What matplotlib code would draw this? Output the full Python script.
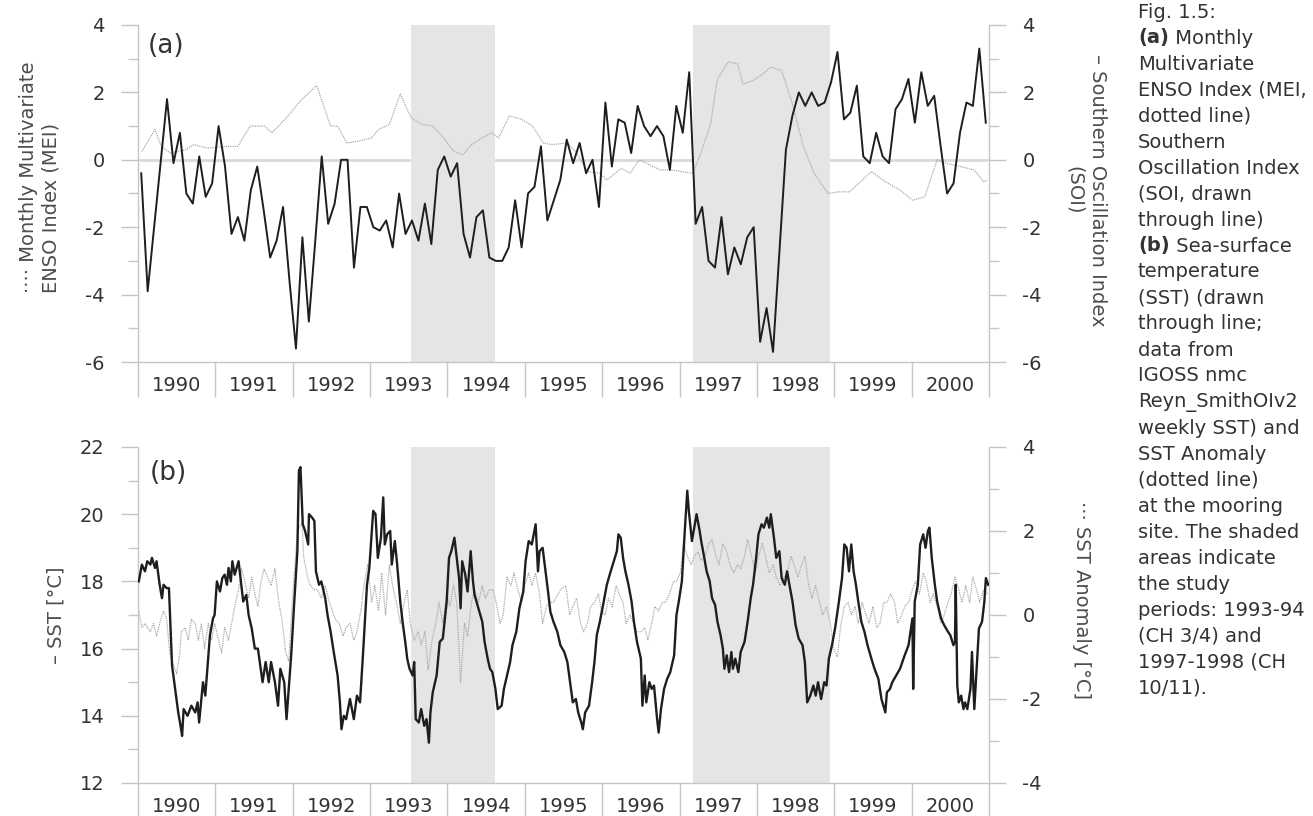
import matplotlib
matplotlib.use("Agg")
import numpy as np
import matplotlib.pyplot as plt
from matplotlib.ticker import FixedLocator, MultipleLocator, NullFormatter

plt.rcParams['font.family'] = ['DejaVu Sans']
plt.rcParams['axes.unicode_minus'] = False

# ---- data ----
years = list(range(1990, 2001))
study_periods = [(1993.53, 1994.61), (1997.17, 1998.94)]

# (a) Southern Oscillation Index, monthly Jan 1990 .. Dec 2000
soi = [
    -0.4, -3.9, -2.0, -0.1, 1.8, -0.1, 0.8, -1.0, -1.3, 0.1, -1.1, -0.7,   # 1990
    1.0, -0.2, -2.2, -1.7, -2.4, -0.9, -0.2, -1.5, -2.9, -2.4, -1.4, -3.6,  # 1991
    -5.6, -2.3, -4.8, -2.4, 0.1, -1.9, -1.3, 0.0, 0.0, -3.2, -1.4, -1.4,    # 1992
    -2.0, -2.1, -1.8, -2.6, -1.0, -2.2, -1.8, -2.4, -1.3, -2.5, -0.3, 0.1,  # 1993
    -0.5, -0.1, -2.2, -2.9, -1.7, -1.5, -2.9, -3.0, -3.0, -2.6, -1.2, -2.6, # 1994
    -1.0, -0.8, 0.4, -1.8, -1.2, -0.6, 0.6, -0.1, 0.5, -0.4, 0.0, -1.4,     # 1995
    1.7, -0.2, 1.2, 1.1, 0.2, 1.6, 1.0, 0.7, 1.0, 0.7, -0.3, 1.6,           # 1996
    0.8, 2.6, -1.9, -1.4, -3.0, -3.2, -1.7, -3.4, -2.6, -3.1, -2.3, -2.0,   # 1997
    -5.4, -4.4, -5.7, -2.7, 0.3, 1.3, 2.0, 1.6, 2.0, 1.6, 1.7, 2.3,         # 1998
    3.2, 1.2, 1.4, 2.2, 0.1, -0.1, 0.8, 0.1, -0.1, 1.5, 1.8, 2.4,           # 1999
    1.1, 2.6, 1.6, 1.9, 0.4, -1.0, -0.7, 0.8, 1.7, 1.6, 3.3, 1.1,           # 2000
]

# (a) Multivariate ENSO Index
mei_t = [1990.05, 1990.22, 1990.30, 1990.42, 1990.62, 1990.72, 1990.90, 1991.18,
         1991.29, 1991.45, 1991.64, 1991.73, 1991.92, 1992.10, 1992.31, 1992.40,
         1992.49, 1992.58, 1992.70, 1992.84, 1993.02, 1993.11, 1993.25, 1993.39,
         1993.53, 1993.67, 1993.81, 1993.95, 1994.08, 1994.20, 1994.31, 1994.45,
         1994.57, 1994.66, 1994.80, 1994.96, 1995.10, 1995.24, 1995.35, 1995.55,
         1995.67, 1995.81, 1995.97, 1996.06, 1996.25, 1996.36, 1996.48, 1996.61,
         1996.75, 1996.89, 1997.03, 1997.17, 1997.26, 1997.40, 1997.49, 1997.63,
         1997.75, 1997.82, 1997.95, 1998.05, 1998.18, 1998.32, 1998.46, 1998.60,
         1998.74, 1998.92, 1999.06, 1999.20, 1999.48, 1999.66, 1999.85, 2000.01,
         2000.17, 2000.33, 2000.44, 2000.63, 2000.81, 2000.93, 2000.98]
mei = [0.25, 0.9, 0.4, 0.2, 0.3, 0.45, 0.35, 0.4,
       0.4, 1.0, 1.0, 0.8, 1.25, 1.75, 2.2, 1.6,
       1.0, 1.0, 0.5, 0.55, 0.65, 0.9, 1.05, 1.95,
       1.25, 1.05, 1.0, 0.65, 0.25, 0.15, 0.45, 0.65,
       0.8, 0.65, 1.3, 1.2, 1.0, 0.5, 0.45, 0.5,
       0.2, -0.35, -0.4, -0.6, -0.25, -0.4, 0.0, -0.15,
       -0.3, -0.3, -0.35, -0.4, 0.1, 1.05, 2.4, 2.9,
       2.85, 2.25, 2.35, 2.5, 2.75, 2.65, 1.65, 0.4,
       -0.4, -1.0, -0.95, -0.95, -0.35, -0.65, -0.9, -1.2,
       -1.1, 0.0, -0.1, -0.2, -0.3, -0.65, -0.6]

# (b) weekly sea-surface temperature [degC]
sst_t = [
    1990.01, 1990.05, 1990.09, 1990.12, 1990.16, 1990.18, 1990.22, 1990.24, 1990.28, 1990.31,
    1990.33, 1990.37, 1990.40, 1990.44, 1990.48, 1990.52, 1990.55, 1990.57, 1990.59, 1990.64,
    1990.69, 1990.74, 1990.77, 1990.79, 1990.82, 1990.84, 1990.87, 1990.91, 1990.93, 1990.97,
    1990.99, 1991.02, 1991.06, 1991.09, 1991.12, 1991.15, 1991.17, 1991.20, 1991.22, 1991.25,
    1991.30, 1991.34, 1991.36, 1991.40, 1991.43, 1991.47, 1991.51, 1991.55, 1991.61, 1991.65,
    1991.69, 1991.72, 1991.77, 1991.81, 1991.84, 1991.89, 1991.92, 1991.98, 1992.02, 1992.06,
    1992.08, 1992.10, 1992.13, 1992.16, 1992.20, 1992.21, 1992.25, 1992.28, 1992.30, 1992.34,
    1992.37, 1992.42, 1992.45, 1992.49, 1992.53, 1992.58, 1992.61, 1992.63, 1992.66, 1992.69,
    1992.74, 1992.79, 1992.83, 1992.87, 1992.91, 1992.96, 1992.99, 1993.04, 1993.07, 1993.10,
    1993.14, 1993.17, 1993.19, 1993.22, 1993.26, 1993.28, 1993.32, 1993.35, 1993.39, 1993.42,
    1993.46, 1993.48, 1993.51, 1993.55, 1993.57, 1993.59, 1993.63, 1993.66, 1993.70, 1993.73,
    1993.76, 1993.78, 1993.81, 1993.86, 1993.90, 1993.94, 1993.99, 1994.02, 1994.05, 1994.09,
    1994.12, 1994.15, 1994.17, 1994.19, 1994.23, 1994.26, 1994.30, 1994.33, 1994.35, 1994.40,
    1994.45, 1994.48, 1994.52, 1994.55, 1994.58, 1994.62, 1994.65, 1994.70, 1994.73, 1994.77,
    1994.81, 1994.84, 1994.89, 1994.93, 1994.98, 1995.01, 1995.05, 1995.09, 1995.14, 1995.17,
    1995.19, 1995.23, 1995.30, 1995.33, 1995.37, 1995.42, 1995.46, 1995.51, 1995.55, 1995.59,
    1995.62, 1995.66, 1995.69, 1995.73, 1995.75, 1995.78, 1995.83, 1995.87, 1995.90, 1995.93,
    1995.97, 1996.02, 1996.06, 1996.11, 1996.15, 1996.19, 1996.21, 1996.24, 1996.27, 1996.30,
    1996.34, 1996.38, 1996.41, 1996.45, 1996.50, 1996.52, 1996.55, 1996.57, 1996.61, 1996.64,
    1996.67, 1996.71, 1996.73, 1996.76, 1996.80, 1996.84, 1996.88, 1996.93, 1996.96, 1996.99,
    1997.03, 1997.07, 1997.10, 1997.12, 1997.16, 1997.19, 1997.22, 1997.26, 1997.28, 1997.32,
    1997.35, 1997.39, 1997.42, 1997.46, 1997.49, 1997.53, 1997.56, 1997.58, 1997.61, 1997.64,
    1997.67, 1997.69, 1997.72, 1997.76, 1997.79, 1997.84, 1997.88, 1997.92, 1997.95, 1997.99,
    1998.02, 1998.06, 1998.09, 1998.13, 1998.16, 1998.18, 1998.22, 1998.25, 1998.29, 1998.32,
    1998.36, 1998.39, 1998.42, 1998.46, 1998.50, 1998.54, 1998.59, 1998.62, 1998.65, 1998.69,
    1998.73, 1998.76, 1998.79, 1998.83, 1998.87, 1998.90, 1998.93, 1998.97, 1999.01, 1999.06,
    1999.10, 1999.13, 1999.16, 1999.19, 1999.22, 1999.25, 1999.28, 1999.31, 1999.35, 1999.39,
    1999.43, 1999.48, 1999.52, 1999.57, 1999.61, 1999.66, 1999.68, 1999.72, 1999.75, 1999.80,
    1999.85, 1999.91, 1999.96, 2000.01, 2000.02, 2000.04, 2000.08, 2000.11, 2000.15, 2000.18,
    2000.21, 2000.23, 2000.26, 2000.30, 2000.33, 2000.38, 2000.42, 2000.47, 2000.50, 2000.54,
    2000.56, 2000.57, 2000.59, 2000.61, 2000.64, 2000.67, 2000.69, 2000.72, 2000.76, 2000.78,
    2000.81, 2000.84, 2000.87, 2000.91, 2000.94, 2000.96, 2000.99,
]
sst = [
    18.0, 18.5, 18.3, 18.6, 18.5, 18.7, 18.4, 18.6, 17.9, 17.5,
    17.9, 17.8, 17.8, 15.5, 14.8, 14.1, 13.7, 13.4, 14.2, 14.0,
    14.3, 14.1, 14.4, 13.8, 14.5, 15.0, 14.6, 15.8, 16.4, 16.9,
    17.0, 18.0, 17.7, 18.1, 18.2, 17.9, 18.4, 18.0, 18.6, 18.2,
    18.6, 17.8, 17.4, 17.6, 17.0, 16.6, 16.0, 16.0, 15.0, 15.6,
    15.0, 15.6, 15.0, 14.3, 15.4, 15.0, 13.9, 15.8, 17.4, 18.9,
    21.3, 21.4, 19.7, 19.5, 19.1, 20.0, 19.9, 19.8, 18.3, 17.9,
    18.0, 17.5, 17.0, 16.5, 15.9, 15.2, 14.4, 13.6, 14.0, 13.9,
    14.5, 13.9, 14.6, 14.4, 15.9, 17.9, 18.4, 20.1, 20.0, 18.7,
    19.3, 20.5, 19.1, 19.4, 19.5, 18.5, 19.2, 18.5, 17.4, 16.8,
    16.1, 15.7, 15.4, 15.2, 15.6, 13.9, 13.8, 14.2, 13.7, 13.9,
    13.2, 14.1, 14.7, 15.2, 16.2, 16.3, 17.4, 18.7, 18.9, 19.3,
    18.7, 18.1, 17.2, 18.6, 18.2, 17.7, 18.9, 18.0, 17.6, 17.2,
    16.8, 16.2, 15.7, 15.4, 15.3, 14.8, 14.2, 14.3, 14.8, 15.2,
    15.6, 16.1, 16.5, 17.2, 17.7, 18.6, 19.2, 19.1, 19.7, 18.3,
    18.9, 19.0, 17.7, 17.1, 16.8, 16.5, 16.1, 15.9, 15.6, 14.9,
    14.4, 14.5, 14.1, 13.8, 13.6, 14.1, 14.3, 15.0, 15.6, 16.4,
    16.8, 17.4, 17.9, 18.3, 18.6, 18.9, 19.4, 19.3, 18.7, 18.3,
    17.9, 17.4, 16.8, 16.2, 15.7, 14.3, 15.2, 14.4, 15.0, 14.8,
    14.9, 13.9, 13.5, 14.2, 14.8, 15.1, 15.3, 15.8, 17.0, 17.4,
    18.0, 19.6, 20.7, 20.1, 19.2, 19.6, 20.0, 19.5, 19.2, 18.7,
    18.3, 18.0, 17.5, 17.3, 16.8, 16.4, 16.0, 15.4, 15.8, 15.3,
    15.9, 15.4, 15.7, 15.3, 15.9, 16.2, 16.8, 17.5, 17.9, 18.7,
    19.4, 19.7, 19.6, 19.9, 19.6, 20.0, 19.3, 18.7, 18.9, 18.1,
    17.9, 18.3, 17.9, 17.4, 16.7, 16.3, 16.1, 15.6, 14.4, 14.6,
    14.9, 14.6, 15.0, 14.5, 15.0, 14.9, 15.7, 16.1, 16.6, 17.4,
    18.1, 19.1, 19.0, 18.3, 19.1, 18.3, 17.9, 17.4, 16.8, 16.5,
    16.1, 15.7, 15.4, 15.1, 14.5, 14.1, 14.7, 14.8, 15.0, 15.2,
    15.4, 15.8, 16.1, 16.9, 14.8, 17.4, 17.9, 19.1, 19.4, 19.0,
    19.5, 19.6, 18.7, 17.9, 17.4, 16.9, 16.7, 16.5, 16.4, 16.1,
    16.2, 17.9, 14.9, 14.4, 14.6, 14.2, 14.4, 14.2, 14.8, 15.9,
    14.2, 15.4, 16.6, 16.8, 17.4, 18.1, 17.9,
]

# (b) SST anomaly [degC], right axis
anom_t = [
    1990.01, 1990.05, 1990.09, 1990.16, 1990.20, 1990.24, 1990.28, 1990.33, 1990.37, 1990.41,
    1990.46, 1990.50, 1990.54, 1990.56, 1990.61, 1990.65, 1990.69, 1990.74, 1990.78, 1990.82,
    1990.86, 1990.91, 1990.95, 1990.99, 1991.03, 1991.08, 1991.12, 1991.17, 1991.21, 1991.25,
    1991.30, 1991.34, 1991.38, 1991.43, 1991.47, 1991.51, 1991.55, 1991.59, 1991.63, 1991.72,
    1991.77, 1991.82, 1991.86, 1991.91, 1991.95, 1991.99, 1992.02, 1992.06, 1992.12, 1992.14,
    1992.19, 1992.23, 1992.28, 1992.32, 1992.37, 1992.42, 1992.46, 1992.51, 1992.55, 1992.60,
    1992.65, 1992.69, 1992.74, 1992.79, 1992.83, 1992.88, 1992.92, 1992.97, 1993.02, 1993.06,
    1993.11, 1993.15, 1993.20, 1993.25, 1993.29, 1993.34, 1993.39, 1993.43, 1993.48, 1993.52,
    1993.57, 1993.62, 1993.66, 1993.71, 1993.75, 1993.80, 1993.85, 1993.89, 1993.94, 1993.99,
    1994.03, 1994.08, 1994.12, 1994.17, 1994.22, 1994.26, 1994.31, 1994.35, 1994.40, 1994.45,
    1994.49, 1994.54, 1994.59, 1994.63, 1994.68, 1994.72, 1994.77, 1994.82, 1994.86, 1994.91,
    1994.96, 1995.00, 1995.05, 1995.09, 1995.14, 1995.19, 1995.23, 1995.28, 1995.32, 1995.37,
    1995.46, 1995.53, 1995.58, 1995.62, 1995.67, 1995.72, 1995.76, 1995.81, 1995.85, 1995.90,
    1995.95, 1995.99, 1996.04, 1996.08, 1996.13, 1996.18, 1996.22, 1996.27, 1996.31, 1996.36,
    1996.41, 1996.45, 1996.50, 1996.55, 1996.59, 1996.64, 1996.68, 1996.73, 1996.78, 1996.82,
    1996.87, 1996.92, 1996.96, 1997.01, 1997.05, 1997.10, 1997.15, 1997.19, 1997.24, 1997.28,
    1997.33, 1997.38, 1997.42, 1997.47, 1997.51, 1997.56, 1997.61, 1997.65, 1997.70, 1997.75,
    1997.79, 1997.84, 1997.88, 1997.93, 1997.98, 1998.02, 1998.07, 1998.11, 1998.16, 1998.21,
    1998.25, 1998.30, 1998.35, 1998.39, 1998.44, 1998.48, 1998.53, 1998.58, 1998.62, 1998.67,
    1998.71, 1998.76, 1998.81, 1998.85, 1998.90, 1998.95, 1998.99, 1999.04, 1999.08, 1999.13,
    1999.18, 1999.22, 1999.27, 1999.31, 1999.36, 1999.41, 1999.45, 1999.50, 1999.55, 1999.59,
    1999.64, 1999.68, 1999.73, 1999.78, 1999.82, 1999.87, 1999.91, 1999.96, 2000.01, 2000.05,
    2000.10, 2000.15, 2000.19, 2000.24, 2000.28, 2000.33, 2000.38, 2000.42, 2000.47, 2000.51,
    2000.56, 2000.61, 2000.65, 2000.70, 2000.75, 2000.79, 2000.84, 2000.88, 2000.93, 2000.98,
]
anom = [
    0.1, -0.3, -0.2, -0.4, -0.2, -0.5, -0.2, 0.1, -0.1, -0.9,
    -1.2, -1.4, -0.9, -0.4, -0.3, -0.6, -0.1, -0.2, -0.6, -0.2,
    -0.8, -0.2, -0.6, -0.2, -0.5, -0.9, -0.3, -0.6, -0.2, 0.2,
    0.6, 1.1, 0.8, 0.4, 0.9, 0.5, 0.2, 0.8, 1.1, 0.7,
    1.1, 0.3, -0.1, -0.9, -1.1, 0.2, 1.0, 2.0, 2.2, 1.4,
    0.9, 0.7, 0.6, 0.6, 0.4, 0.7, 0.4, 0.1, -0.1, -0.2,
    -0.5, -0.3, -0.2, -0.6, -0.4, 0.1, 0.7, 1.2, 0.3, 0.7,
    0.1, 1.0, 0.0, 1.2, 0.7, 0.3, -0.2, 0.2, 0.6, -0.2,
    -0.6, -0.4, -0.7, -0.4, -1.3, -0.6, -0.2, 0.3, -0.2, 0.5,
    0.2, 0.7, 0.3, -1.6, -0.2, -0.5, 0.3, 0.6, 0.3, 0.7,
    0.4, 0.6, 0.6, 0.3, -0.2, 0.0, 0.9, 0.7, 1.0, 0.6,
    0.3, 0.7, 1.0, 0.7, 1.0, 0.5, -0.2, 0.2, 0.3, 0.3,
    0.6, 0.7, 0.0, 0.2, 0.4, -0.2, -0.4, -0.2, 0.2, 0.3,
    0.5, 0.1, 0.0, 0.4, 0.2, 0.7, 0.5, 0.3, -0.2, 0.0,
    -0.2, -0.4, -0.4, -0.3, -0.6, -0.2, 0.2, 0.1, 0.3, 0.3,
    0.5, 0.8, 0.8, 1.0, 1.7, 1.4, 1.2, 1.4, 1.5, 1.3,
    1.4, 1.7, 1.8, 1.4, 1.2, 1.7, 1.5, 1.2, 1.0, 1.2,
    1.1, 1.4, 1.8, 1.4, 1.0, 1.4, 1.7, 1.4, 1.0, 1.2,
    0.9, 0.7, 0.9, 1.0, 1.4, 1.2, 0.9, 1.2, 1.4, 0.7,
    0.4, 0.7, 0.3, 0.0, 0.2, -0.2, -0.8, -1.0, -0.3, 0.2,
    0.3, 0.0, 0.2, -0.2, 0.3, 0.0, -0.2, 0.2, -0.3, -0.2,
    0.3, 0.3, 0.5, 0.3, -0.2, 0.0, 0.2, 0.3, 0.6, 0.8,
    0.5, 1.0, 0.8, 0.3, 0.5, 0.2, -0.2, 0.0, 0.3, 0.5,
    0.9, 0.6, 0.3, 0.7, 0.3, 0.9, 0.6, 0.3, 0.6, 0.5,
]

caption = [
    ("", "Fig. 1.5:"), ("(a)", " Monthly"), ("", "Multivariate"),
    ("", "ENSO Index (MEI,"), ("", "dotted line)"), ("", "Southern"),
    ("", "Oscillation Index"), ("", "(SOI, drawn"), ("", "through line)"),
    ("(b)", " Sea-surface"), ("", "temperature"), ("", "(SST) (drawn"),
    ("", "through line;"), ("", "data from"), ("", "IGOSS nmc"),
    ("", "Reyn_SmithOIv2"), ("", "weekly SST) and"), ("", "SST Anomaly"),
    ("", "(dotted line)"), ("", "at the mooring"), ("", "site. The shaded"),
    ("", "areas indicate"), ("", "the study"), ("", "periods: 1993-94"),
    ("", "(CH 3/4) and"), ("", "1997-1998 (CH"), ("", "10/11)."),
]

# ---- styling ----
W, H = 1313, 816
grid_c = '#c6c6c6'
shade_c = '#e5e5e6'
txt_c = '#333333'
lab_c = '#4d4d4d'
fs = 14

fig = plt.figure(figsize=(W / 100, H / 100), dpi=100)
ax_a = fig.add_axes([138 / W, 1 - 362 / H, 851 / W, 337 / H])
ax_b = fig.add_axes([138 / W, 1 - 783 / H, 851 / W, 336 / H])
ax_ar = ax_a.twinx()
ax_br = ax_b.twinx()


def style_x(ax):
    ax.set_xlim(1990, 2001)
    ax.xaxis.set_major_locator(FixedLocator(range(1990, 2002)))
    ax.xaxis.set_major_formatter(NullFormatter())
    ax.xaxis.set_minor_locator(FixedLocator([y + 0.5 for y in years]))
    ax.set_xticklabels([str(y) for y in years], minor=True)
    ax.tick_params(axis='x', which='major', length=25, width=1.0, color=grid_c, direction='out')
    ax.tick_params(axis='x', which='minor', length=0, pad=10, labelsize=fs, labelcolor=txt_c)


def style_y(ax, side, lo, hi):
    ax.set_ylim(lo, hi)
    ax.yaxis.set_major_locator(MultipleLocator(2))
    ax.yaxis.set_minor_locator(MultipleLocator(1))
    ax.tick_params(axis='y', which='major', length=12, width=1.0, color=grid_c,
                   labelsize=fs, labelcolor=txt_c, pad=12)
    ax.tick_params(axis='y', which='minor', length=7, width=1.0, color=grid_c)
    for s in ax.spines.values():
        s.set_visible(False)
    ax.spines[side].set_visible(True)
    ax.spines[side].set_color(grid_c)
    ax.spines[side].set_linewidth(1.0)


for ax in (ax_a, ax_b):
    style_x(ax)

style_y(ax_a, 'left', -6, 4)
style_y(ax_ar, 'right', -6, 4)
style_y(ax_b, 'left', 12, 22)
style_y(ax_br, 'right', -4, 4)
for ax in (ax_a, ax_b):
    ax.spines['bottom'].set_visible(True)
    ax.spines['bottom'].set_color(grid_c)
    ax.spines['bottom'].set_linewidth(1.0)
ax_ar.tick_params(axis='x', which='both', length=0, labelbottom=False)
ax_br.tick_params(axis='x', which='both', length=0, labelbottom=False)

# ---- panel (a) ----
for x0, x1 in study_periods:
    ax_a.axvspan(x0, x1, color=shade_c, lw=0, zorder=1)
ax_a.axhline(0, color='#d9d9d9', lw=2.0, zorder=0.5)
ax_a.plot(mei_t, mei, color='#ababab', lw=0.9, ls=(0, (1, 0.8)), zorder=2)
soi_t = 1990 + (np.arange(len(soi)) + 0.5) / 12
ax_ar.plot(soi_t, soi, color='#1e1e1e', lw=1.4, zorder=3)
ax_a.text(0.012, 0.975, '(a)', transform=ax_a.transAxes, fontsize=19,
          color=txt_c, va='top', ha='left')

# ---- panel (b) ----
ax_b.set_zorder(ax_br.get_zorder() + 1)
ax_b.patch.set_visible(False)
for x0, x1 in study_periods:
    ax_br.axvspan(x0, x1, color=shade_c, lw=0, zorder=1)
ax_br.plot(anom_t, anom, color='#ababab', lw=0.9, ls=(0, (1, 0.8)), zorder=2)
ax_b.plot(sst_t, sst, color='#1e1e1e', lw=1.7, zorder=3)
ax_b.text(0.014, 0.962, '(b)', transform=ax_b.transAxes, fontsize=19,
          color=txt_c, va='top', ha='left')

# ---- axis titles ----
fig.text(40 / W, 1 - 293 / H, '\u00b7\u00b7\u00b7\u00b7 Monthly Multivariate\nENSO Index (MEI)',
         rotation=90, ha='center', va='bottom', multialignment='left',
         fontsize=fs, color=lab_c, linespacing=1.25)
fig.text(1086 / W, 1 - 190 / H, '\u2013 Southern Oscillation Index\n(SOI)',
         rotation=270, ha='center', va='center', multialignment='center',
         fontsize=fs, color=lab_c, linespacing=1.25)
fig.text(56 / W, 1 - 615 / H, '\u2013 SST [\u00b0C]', rotation=90,
         ha='center', va='center', fontsize=fs, color=lab_c)
fig.text(1082 / W, 1 - 600 / H, '\u00b7\u00b7\u00b7 SST Anomaly [\u00b0C]', rotation=270,
         ha='center', va='center', fontsize=fs, color=lab_c)

# ---- caption ----
renderer = fig.canvas.get_renderer()
cap_x = 1138
for k, (bold, rest) in enumerate(caption):
    y = 1 - (12 + 26 * k) / H
    x = cap_x / W
    if bold:
        t = fig.text(x, y, bold, fontsize=fs, color=txt_c, weight='bold', va='center', ha='left')
        x += t.get_window_extent(renderer).width / W
    fig.text(x, y, rest, fontsize=fs, color=txt_c, va='center', ha='left')

fig.savefig('out.png', dpi=100, facecolor='white')
